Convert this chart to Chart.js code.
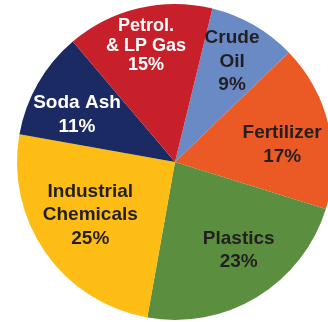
<!DOCTYPE html>
<html>
<head>
<meta charset="utf-8">
<script src="https://cdn.jsdelivr.net/npm/chart.js@4/dist/chart.umd.min.js"></script>
<style>
  html, body { margin: 0; padding: 0; background: #ffffff; overflow: hidden; }
  #wrap { width: 350px; height: 324px; }
</style>
</head>
<body>
<div id="wrap"><canvas id="pie" width="350" height="324"></canvas></div>
<script>
// Market share by end use, in percent
const categories = ["Crude Oil", "Fertilizer", "Plastics", "Industrial Chemicals", "Soda Ash", "Petrol. & LP Gas"];
const shares = [9, 17, 23, 25, 11, 15];
const labelLines = [
  ["Crude", "Oil"],
  ["Fertilizer"],
  ["Plastics"],
  ["Industrial", "Chemicals"],
  ["Soda Ash"],
  ["Petrol.", "& LP Gas"]
];
const sliceColors = ["#6A8AC6", "#EB5924", "#5B8F3F", "#FDBD14", "#1B2A62", "#C8202A"];

// Label styling per slice: text colour, radial fraction, angle nudge (deg), line height, font size
const labelStyle = [
  { color: "#231F20", frac: 0.731, nudge: -0.3, lh: 23.5, size: 19 },
  { color: "#231F20", frac: 0.687, nudge: 4.1, lh: 23.3, size: 19 },
  { color: "#231F20", frac: 0.688, nudge: -4.6, lh: 22.7, size: 19 },
  { color: "#231F20", frac: 0.633, nudge: 2.8, lh: 23.8, size: 19 },
  { color: "#FFFFFF", frac: 0.689, nudge: -4.1, lh: 24, size: 19 },
  { color: "#FFFFFF", frac: 0.757, nudge: -0.7, lh: 19.5, size: 18 }
];

const sliceLabels = {
  id: "sliceLabels",
  afterDatasetsDraw(chart) {
    const ctx = chart.ctx;
    const meta = chart.getDatasetMeta(0);
    const values = chart.data.datasets[0].data;
    ctx.save();
    ctx.textAlign = "center";
    ctx.textBaseline = "middle";
    meta.data.forEach((arc, i) => {
      const p = arc.getProps(["x", "y", "startAngle", "endAngle", "outerRadius"], true);
      const st = labelStyle[i];
      const mid = (p.startAngle + p.endAngle) / 2 + st.nudge * Math.PI / 180;
      const r = p.outerRadius * st.frac;
      const cx = p.x + Math.cos(mid) * r;
      const cy = p.y + Math.sin(mid) * r;
      const lines = labelLines[i].concat([values[i] + "%"]);
      ctx.fillStyle = st.color;
      ctx.font = "bold " + st.size + "px 'Liberation Sans', Arial, sans-serif";
      const top = cy - (lines.length - 1) * st.lh / 2;
      lines.forEach((t, k) => ctx.fillText(t, cx, top + k * st.lh));
    });
    ctx.restore();
  }
};

new Chart(document.getElementById("pie"), {
  type: "pie",
  data: {
    labels: categories,
    datasets: [{
      data: shares,
      backgroundColor: sliceColors,
      borderWidth: 0,
      hoverOffset: 0
    }]
  },
  options: {
    responsive: false,
    animation: false,
    rotation: 13.7,
    layout: { padding: { top: 4, bottom: 4, left: 0, right: 0 } },
    plugins: {
      legend: { display: false },
      tooltip: { enabled: false }
    }
  },
  plugins: [sliceLabels]
});
</script>
</body>
</html>
